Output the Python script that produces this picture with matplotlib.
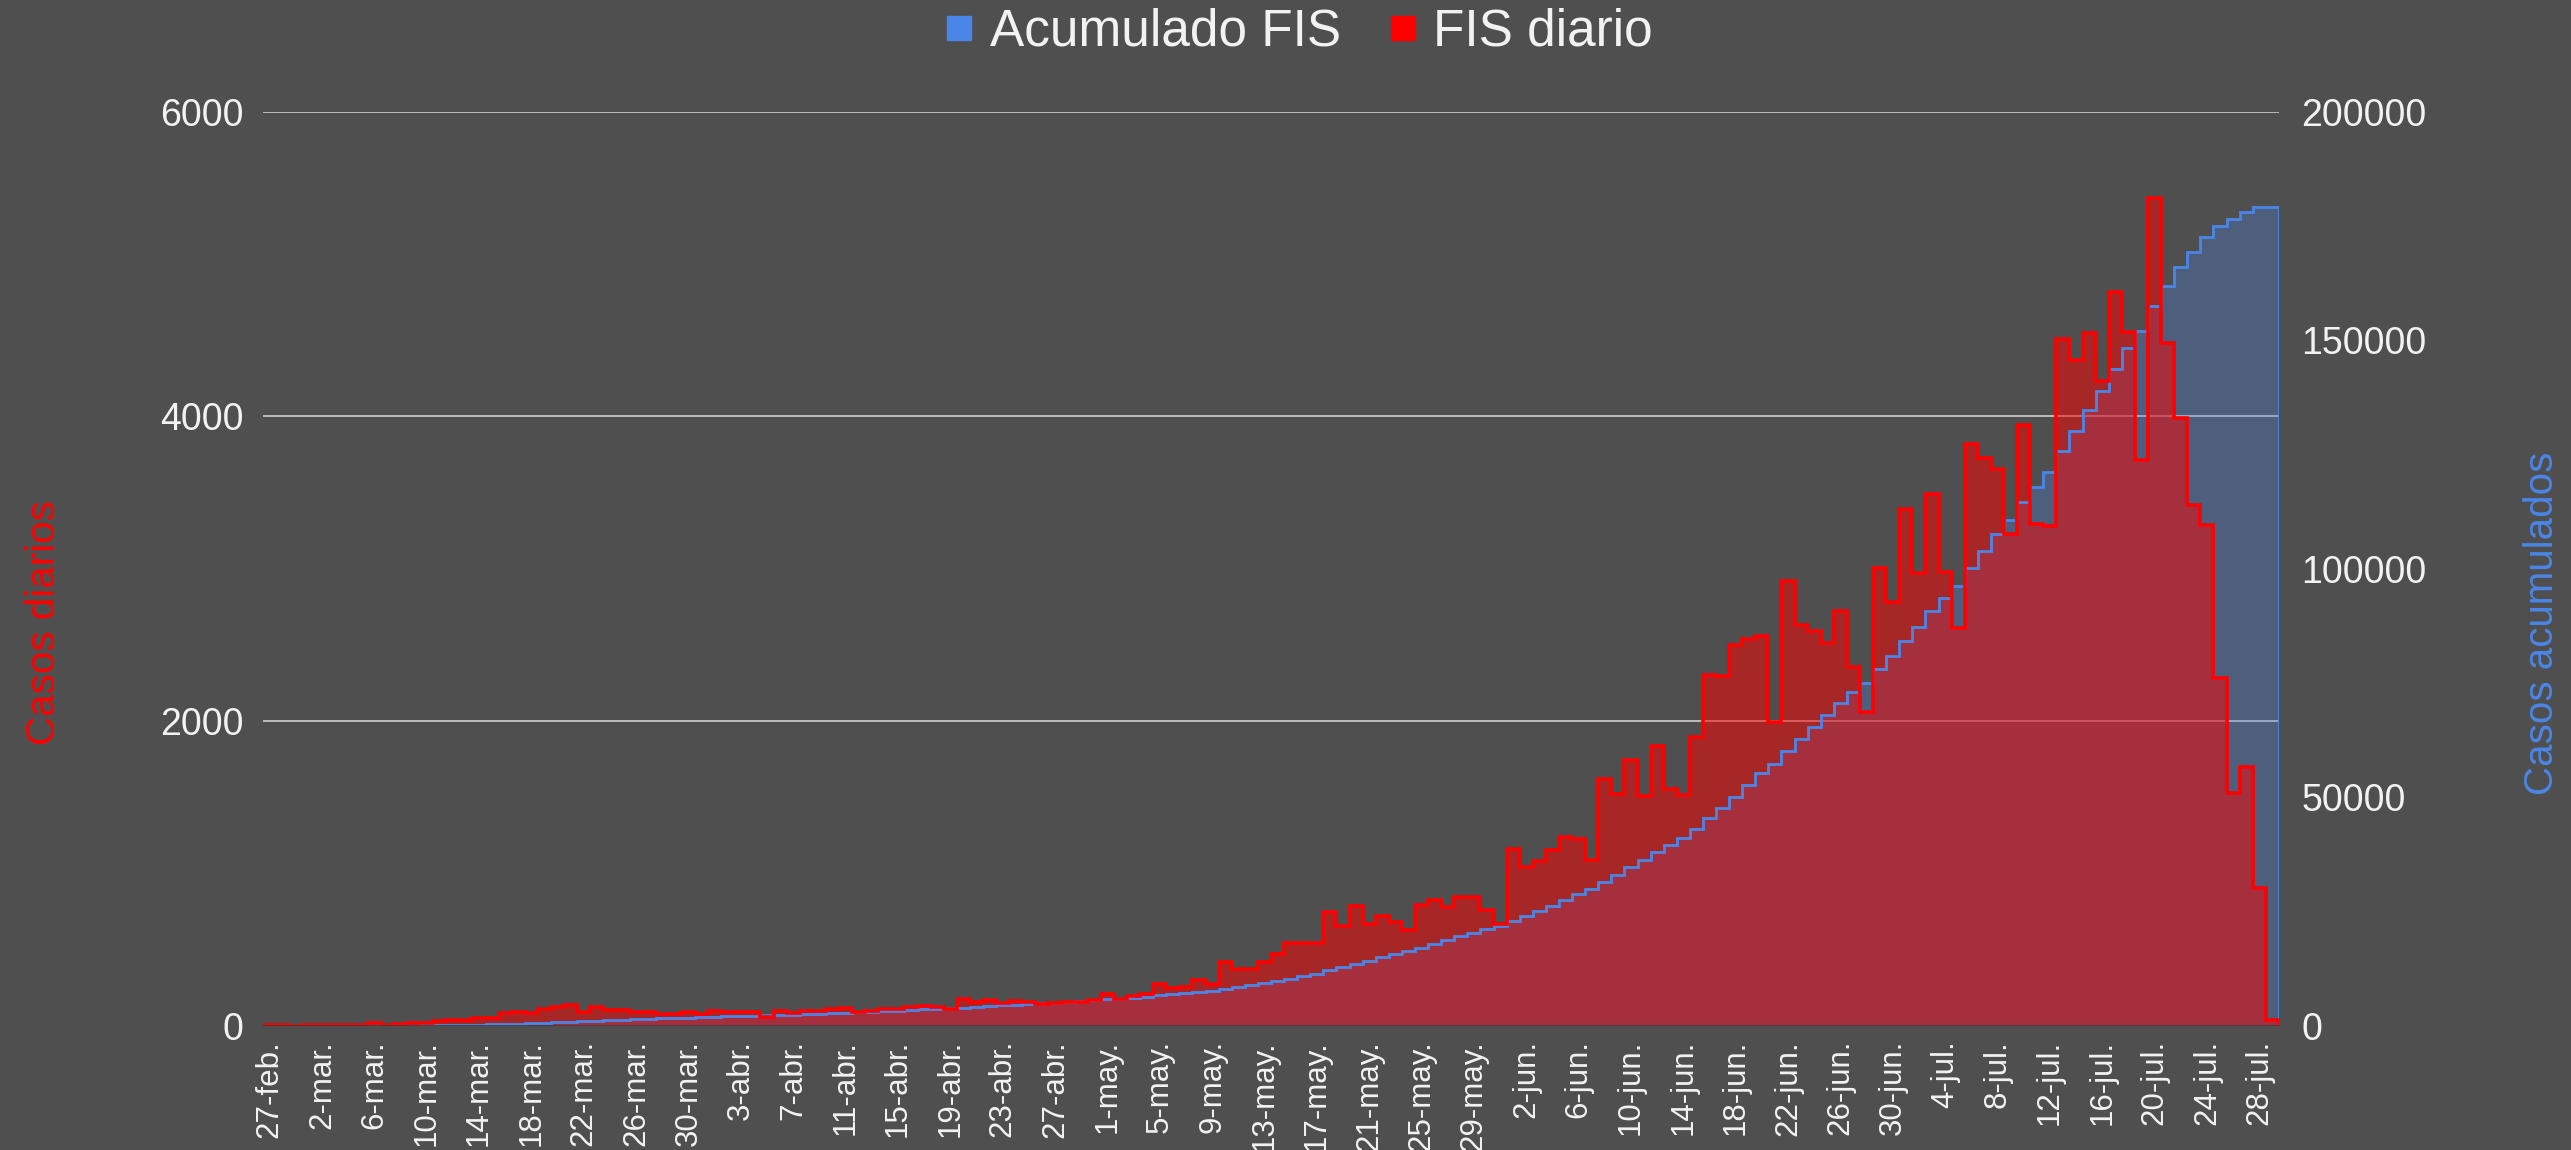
import numpy as np
import matplotlib
matplotlib.use("Agg")
import matplotlib.pyplot as plt
from matplotlib.lines import Line2D
from matplotlib import font_manager

plt.rcParams['font.family'] = ['Liberation Sans', 'DejaVu Sans']

# ---------------- data ----------------
# daily cases by symptom-onset date (FIS), 27-feb .. 29-jul
fis_diario = [
    4, 4, 3, 5, 5, 6, 6, 6,
    17, 4, 13, 22, 22, 31, 39, 39, 55, 55, 83, 90, 88, 110, 127, 138, 94, 123,
    105, 105, 90, 90, 79, 79, 90, 79, 99, 90, 90, 90, 61, 101, 83, 101, 101, 110, 120, 92, 101, 110, 110, 125,
    131, 127, 114, 180, 158, 171, 149, 164, 160, 142, 153, 158, 158, 171, 208, 175, 197, 208, 274, 247,
    258, 300, 274, 420, 377, 377, 420, 471, 543, 548, 548, 745,
    654, 785, 671, 724, 680, 632, 792, 825, 781, 844, 846, 759, 671, 1162, 1044, 1081, 1153, 1241, 1228, 1092,
    1623, 1520, 1746, 1509,
    1839, 1557, 1514, 1894, 2306, 2295, 2497, 2539, 2560, 1996, 2919, 2632, 2595, 2512, 2725, 2356, 2061, 3005,
    2784, 3392, 2973, 3490, 2979, 2610,
    3820, 3728, 3652, 3225, 3943, 3295, 3280, 4510, 4370, 4550, 4232, 4817, 4554, 3717, 5430, 4484, 3991, 3417,
    3290, 2281, 1531, 1702, 906, 39,
]
# accumulated series = running total of the daily series
acumulado_fis = np.cumsum(fis_diario)

tick_labels = [
    "27-feb.", "2-mar.", "6-mar.", "10-mar.", "14-mar.", "18-mar.", "22-mar.", "26-mar.", "30-mar.",
    "3-abr.", "7-abr.", "11-abr.", "15-abr.", "19-abr.", "23-abr.", "27-abr.",
    "1-may.", "5-may.", "9-may.", "13-may.", "17-may.", "21-may.", "25-may.", "29-may.",
    "2-jun.", "6-jun.", "10-jun.", "14-jun.", "18-jun.", "22-jun.", "26-jun.", "30-jun.",
    "4-jul.", "8-jul.", "12-jul.", "16-jul.", "20-jul.", "24-jul.", "28-jul.",
]
tick_every = 4
left_ticks = [0, 2000, 4000, 6000]
right_ticks = [0, 50000, 100000, 150000, 200000]
series_names = ["Acumulado FIS", "FIS diario"]

# ---------------- style ----------------
BG = '#4f4f4f'
TXT = '#f2f2f2'
RED = '#ff0000'
BLUE = '#4a86e8'
GRID = '#c4c4c4'

installed = {f.name for f in font_manager.fontManager.ttflist}
if 'Liberation Sans Narrow' in installed:
    xfont, xsize = 'Liberation Sans Narrow', 25.5
else:
    xfont, xsize = 'Liberation Sans', 22.5

n = len(fis_diario)
edges = np.arange(n + 1) - 0.5

fig = plt.figure(figsize=(25.71, 11.5), dpi=100, facecolor=BG)
ax = fig.add_axes([0.1023, 0.1078, 0.7841, 0.7952])
ax.set_facecolor(BG)
ax2 = ax.twinx()
ax2.patch.set_visible(False)

ax.set_xlim(-0.5, n - 0.5)
ax.set_ylim(0, 6000)
ax2.set_ylim(0, 200000)

# grid on left scale
for v in left_ticks[1:]:
    ax.axhline(v, color=GRID, lw=1.3, zorder=0.5)

# cumulative (right scale), drawn in the main axes with the right axis' data transform
ax.stairs(acumulado_fis, edges, fill=True, color=BLUE, alpha=0.3, lw=0, zorder=1,
          transform=ax2.transData)
# daily fill
ax.stairs(fis_diario, edges, fill=True, color=RED, alpha=0.5, lw=0, zorder=2)
# lines
ax.stairs(acumulado_fis, edges, fill=False, color=BLUE, lw=2.0, zorder=3,
          transform=ax2.transData)
ax.stairs(fis_diario, edges, fill=False, color=RED, lw=2.6, zorder=4)

ax.set_xlim(-0.5, n - 0.5)
ax.set_ylim(0, 6000)
ax2.set_ylim(0, 200000)

ax.set_yticks(left_ticks)
ax.set_yticklabels([str(v) for v in left_ticks])
ax2.set_yticks(right_ticks)
ax2.set_yticklabels([str(v) for v in right_ticks])

xt = np.arange(0, n, tick_every)[:len(tick_labels)]
ax.set_xticks(xt)
ax.set_xticklabels(tick_labels, rotation=90, ha='center', va='top',
                   family=[xfont, 'DejaVu Sans'], fontsize=xsize, color=TXT)

ax.tick_params(axis='y', length=0, pad=14, labelsize=27, labelcolor=TXT)
ax2.tick_params(axis='y', length=0, pad=16, labelsize=27, labelcolor=TXT)
ax.tick_params(axis='x', length=0, pad=10)

for a in (ax, ax2):
    for s in a.spines.values():
        s.set_visible(False)

ax.axhline(0, color='#3c3c3c', lw=1.2, zorder=5)

fig.text(44 / 2571, 1 - 623 / 1150, "Casos diarios", rotation=90, color=RED,
         fontsize=29, ha='center', va='center')
fig.text(2542 / 2571, 1 - 623 / 1150, "Casos acumulados", rotation=90, color=BLUE,
         fontsize=29, ha='center', va='center')

handles = [Line2D([], [], marker='s', linestyle='none', markersize=17, color=BLUE),
           Line2D([], [], marker='s', linestyle='none', markersize=17, color=RED)]
leg = fig.legend(handles, series_names, loc='center', bbox_to_anchor=(0.504, 0.972),
                 ncol=2, frameon=False, fontsize=37, handletextpad=0.2, columnspacing=0.8,
                 handlelength=0.8)
for t in leg.get_texts():
    t.set_color(TXT)

fig.savefig("out.png", dpi=100, facecolor=BG)
